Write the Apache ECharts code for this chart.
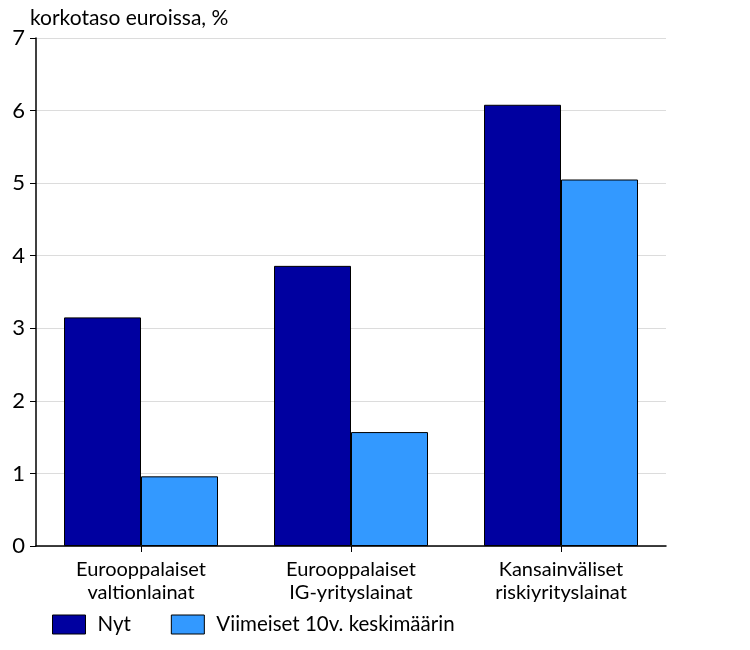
<!DOCTYPE html>
<html><head><meta charset="utf-8">
<script src="https://cdn.jsdelivr.net/npm/echarts@6/dist/echarts.min.js"></script>
<style>html,body{margin:0;padding:0;background:#fff}#c{width:750px;height:650px}</style>
</head><body><div id="c"></div>
<script>
const categories = ['Eurooppalaiset\nvaltionlainat', 'Eurooppalaiset\nIG-yrityslainat', 'Kansainväliset\nriskiyrityslainat'];
const seriesNames = ['Nyt', 'Viimeiset 10v. keskimäärin'];
const nytValues = [3.15, 3.86, 6.08];
const avgValues = [0.96, 1.57, 5.05];
const yTicks = [0, 1, 2, 3, 4, 5, 6, 7];

const FONT = 'Lato';
const chart = echarts.init(document.getElementById('c'), null, {renderer: 'canvas'});
chart.setOption({
  animation: false,
  backgroundColor: '#fff',
  textStyle: {fontFamily: FONT},
  title: {
    text: 'korkotaso euroissa, %',
    left: 25, top: 3,
    textStyle: {fontFamily: FONT, fontSize: 21, fontWeight: 'normal', color: '#000'}
  },
  legend: {
    left: 47, top: 609,
    icon: 'rect',
    itemWidth: 33, itemHeight: 19, itemGap: 40,
    textStyle: {fontFamily: FONT, fontSize: 20.5, color: '#000', padding: [0, 0, 0, 7]},
    itemStyle: {borderColor: '#000', borderWidth: 1},
    data: seriesNames
  },
  grid: {left: 36, right: 84, top: 38, bottom: 104, containLabel: false},
  xAxis: {
    type: 'category',
    data: categories,
    axisLine: {lineStyle: {color: '#000', width: 1.5}},
    axisTick: {show: true, alignWithLabel: true, length: 6, lineStyle: {color: '#000'}},
    axisLabel: {fontFamily: FONT, fontSize: 20, color: '#000', margin: 12, lineHeight: 23, interval: 0}
  },
  yAxis: {
    type: 'value',
    min: yTicks[0], max: yTicks[yTicks.length - 1], interval: 1,
    axisLine: {show: true, lineStyle: {color: '#000', width: 1.5}},
    axisTick: {show: true, length: 6, lineStyle: {color: '#000'}},
    axisLabel: {fontFamily: FONT, fontSize: 22, color: '#000', margin: 11},
    splitLine: {show: true, lineStyle: {color: '#dcdcdc', width: 1}}
  },
  series: [
    {name: seriesNames[0], type: 'bar', data: nytValues, barWidth: 77, barGap: '0%',
     itemStyle: {color: '#0000a0', borderColor: '#000', borderWidth: 1}},
    {name: seriesNames[1], type: 'bar', data: avgValues, barWidth: 77, barGap: '0%',
     itemStyle: {color: '#3399ff', borderColor: '#000', borderWidth: 1}}
  ]
});
</script></body></html>
